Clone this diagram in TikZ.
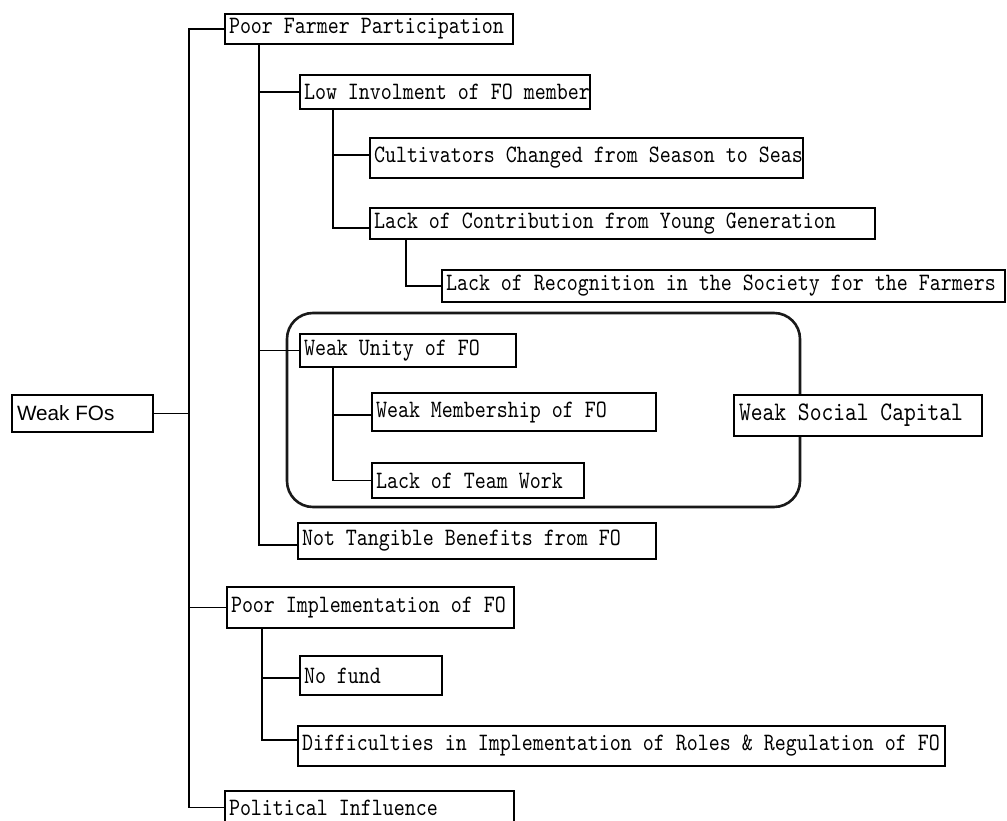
\documentclass[tikz,border=0pt]{standalone}
\usepackage{fontspec}
\newfontfamily\monof{lmmono10-regular.otf}[FakeStretch=0.838]
\newfontfamily\sansf{Liberation Sans}
\newcommand\boxtxt[2]{\makebox[#1pt][l]{#2}}
\tikzset{
  bx/.style={draw, line width=1.4pt, anchor=north west, inner xsep=4pt, inner ysep=0pt,
    outer sep=0pt, fill=white, font=\fontsize{25}{27}\monof},
  ln/.style={line width=1.4pt},
  grp/.style={draw, line width=2.6pt, black!90, rounded corners=26pt, anchor=north west,
    inner sep=0pt, outer sep=0pt}
}
\begin{document}
\begin{tikzpicture}[x=1pt,y=1pt]
\clip (0,0) rectangle (1007,-821);
\fill[white] (0,0) rectangle (1007,-821);
% group frame
\node[grp, minimum width=513, minimum height=194] (G) at (287,-313) {};
% vertical positions
\coordinate (X0) at (189,0);
\coordinate (X1) at (259,0);
\coordinate (X2) at (333,0);
\coordinate (X3) at (406,0);
\coordinate (X4) at (262,0);
% boxes
\node[bx, inner xsep=5pt, minimum height=37, font=\fontsize{20.7}{22}\sansf] (WF) at (12,-395) {\boxtxt{131}{Weak FOs}};
\node[bx, minimum height=30] (PFP) at (225,-14) {\boxtxt{280}{Poor Farmer Participation}};
\node[bx, minimum height=34] (LI) at (300,-75) {\boxtxt{282}{Low Involment of FO member}};
\node[bx, minimum height=40] (CU) at (370,-138) {\boxtxt{425}{Cultivators Changed from Season to Seas}};
\node[bx, minimum height=31] (LC) at (370,-208) {\boxtxt{497}{Lack of Contribution from Young Generation}};
\node[bx, minimum height=32] (LR) at (442,-270) {\boxtxt{555}{Lack of Recognition in the Society for the Farmers}};
\node[bx, minimum height=33] (WU) at (300,-334) {\boxtxt{208}{Weak Unity of FO}};
\node[bx, minimum height=38] (WM) at (372,-393) {\boxtxt{276}{Weak Membership of FO}};
\node[bx, minimum height=35] (TW) at (372,-463) {\boxtxt{204}{Lack of Team Work}};
\node[bx, inner xsep=5pt, minimum height=41, font=\fontsize{26.8}{28}\monof] (WSC) at (734,-395) {\boxtxt{238}{Weak Social Capital}};
\node[bx, minimum height=36] (NT) at (298,-523) {\boxtxt{350}{Not Tangible Benefits from FO}};
\node[bx, minimum height=41] (PI) at (227,-587) {\boxtxt{279}{Poor Implementation of FO}};
\node[bx, minimum height=39] (NF) at (300,-656) {\boxtxt{134}{No fund}};
\node[bx, minimum height=40] (DF) at (298,-726) {\boxtxt{639}{Difficulties in Implementation of Roles \& Regulation of FO}};
\node[bx, minimum height=33] (POL) at (225,-791) {\boxtxt{281}{Political Influence}};
% connectors
\draw[ln] (WF.east) -- (WF.east -| X0);
\draw[ln] (PFP.west) -| (X0 |- POL.west) -- (POL.west);
\draw[ln] (PI.west) -- (PI.west -| X0);
\draw[ln] (X1 |- PFP.south) |- ([yshift=-4pt]NT.west);
\draw[ln] (LI.west) -- (LI.west -| X1);
\draw[ln] (WU.west) -- (WU.west -| X1);
\draw[ln] (X2 |- LI.south) |- ([yshift=-4.5pt]LC.west);
\draw[ln] ([yshift=3pt]CU.west) -- ++(-37,0);
\draw[ln] (X3 |- LC.south) |- (LR.west);
\draw[ln] (X2 |- WU.south) |- (TW.west);
\draw[ln] ([yshift=-3pt]WM.west) -- ++(-39,0);
\draw[ln] (X4 |- PI.south) |- ([yshift=6pt]DF.west);
\draw[ln] ([yshift=-2.5pt]NF.west) -- ++(-38,0);
\end{tikzpicture}
\end{document}
